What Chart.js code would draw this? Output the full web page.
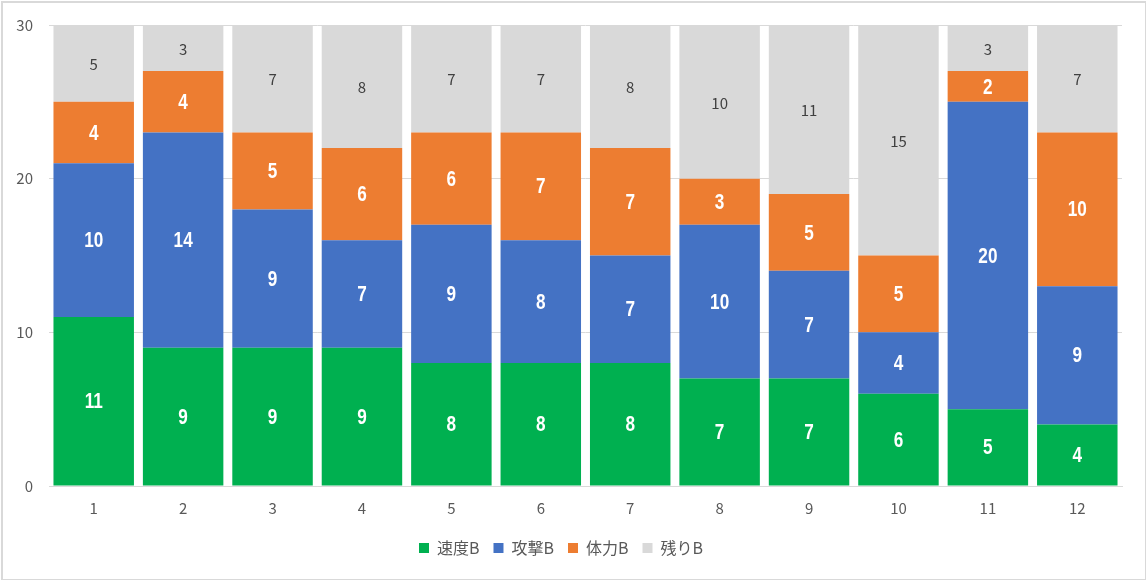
<!DOCTYPE html>
<html>
<head>
<meta charset="utf-8">
<script src="https://cdn.jsdelivr.net/npm/chart.js@4"></script>
<style>
  html, body { margin: 0; padding: 0; background: #fff; }
  #wrap { position: relative; width: 1146px; height: 580px; }
  #frame { position: absolute; left: 1px; top: 1px; width: 1142px; height: 576px; border: 2px solid #d9d9d9; pointer-events: none; }
</style>
</head>
<body>
<div id="wrap">
  <canvas id="chart" width="1146" height="580"></canvas>
  <div id="frame"></div>
</div>
<script>
// categories and series
const categories = ['1', '2', '3', '4', '5', '6', '7', '8', '9', '10', '11', '12'];
const speedB   = [11, 9, 9, 9, 8, 8, 8, 7, 7, 6, 5, 4];
const attackB  = [10, 14, 9, 7, 9, 8, 7, 10, 7, 4, 20, 9];
const staminaB = [4, 4, 5, 6, 6, 7, 7, 3, 5, 5, 2, 10];
const restB    = [5, 3, 7, 8, 7, 7, 8, 10, 11, 15, 3, 7];
const yTicks   = [0, 10, 20, 30];

const labelFont = '"Liberation Sans", sans-serif';
const textFont = '"Noto Sans CJK JP", "Open Sans", sans-serif';

// draws the value inside each bar segment
const barLabels = {
  id: 'barLabels',
  afterDatasetsDraw(chart) {
    const ctx = chart.ctx;
    chart.data.datasets.forEach((ds, i) => {
      const meta = chart.getDatasetMeta(i);
      meta.data.forEach((bar, j) => {
        const v = ds.data[j];
        const cy = (bar.y + bar.base) / 2;
        ctx.save();
        ctx.textAlign = 'center';
        ctx.textBaseline = 'middle';
        if (ds.light) {
          ctx.fillStyle = '#404040';
          ctx.font = '15px ' + textFont;
          ctx.fillText(String(v), bar.x, cy + 1);
        } else {
          // condensed bold look
          ctx.fillStyle = '#ffffff';
          ctx.font = 'bold 22px ' + labelFont;
          ctx.translate(bar.x, cy + 1);
          ctx.scale(0.78, 1);
          ctx.fillText(String(v), 0, 0);
        }
        ctx.restore();
      });
    });
  }
};

const ctx = document.getElementById('chart').getContext('2d');
new Chart(ctx, {
  type: 'bar',
  data: {
    labels: categories,
    datasets: [
      { label: '速度B', data: speedB,   backgroundColor: '#00B050' },
      { label: '攻撃B', data: attackB,  backgroundColor: '#4472C4' },
      { label: '体力B', data: staminaB, backgroundColor: '#ED7D31' },
      { label: '残りB', data: restB,    backgroundColor: '#D9D9D9', light: true }
    ]
  },
  options: {
    responsive: false,
    animation: false,
    devicePixelRatio: 1,
    layout: { padding: { top: 24, right: 24, left: 0, bottom: 14 } },
    datasets: {
      bar: { categoryPercentage: 1, barPercentage: 0.9 }
    },
    scales: {
      x: {
        stacked: true,
        grid: { display: false, drawTicks: false },
        border: { color: '#d9d9d9', width: 1 },
        ticks: { color: '#595959', font: { size: 15, family: textFont }, padding: 13 },
        afterFit(scale) { scale.height = 40; }
      },
      y: {
        stacked: true,
        min: 0,
        max: 30,
        afterBuildTicks(scale) { scale.ticks = yTicks.map(v => ({ value: v })); },
        grid: { color: '#d9d9d9', drawTicks: false },
        border: { display: false },
        ticks: { color: '#595959', font: { size: 15, family: textFont }, padding: 16 },
        afterFit(scale) { scale.width = 49; }
      }
    },
    plugins: {
      legend: {
        position: 'bottom',
        labels: {
          boxWidth: 10,
          boxHeight: 10,
          color: '#595959',
          font: { size: 16, family: textFont },
          padding: 14
        }
      },
      tooltip: { enabled: false }
    }
  },
  plugins: [barLabels]
});
</script>
</body>
</html>
